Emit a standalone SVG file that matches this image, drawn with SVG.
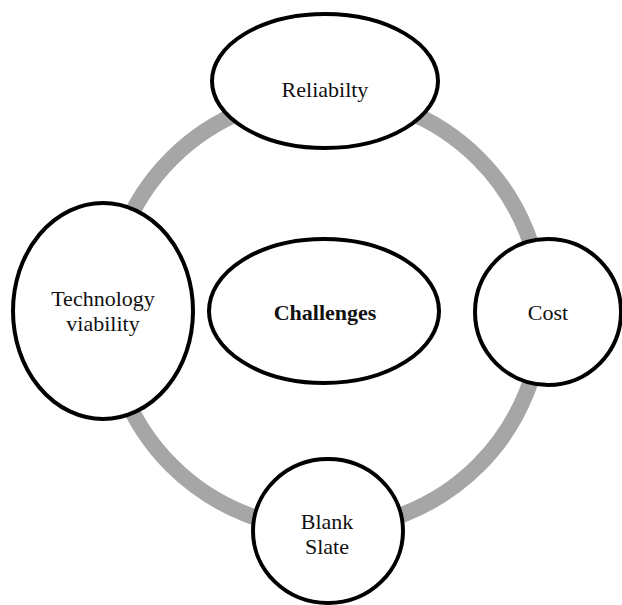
<svg xmlns="http://www.w3.org/2000/svg" width="622" height="605" viewBox="0 0 622 605">
  <style>
    .node { fill: #ffffff; stroke: #000000; stroke-width: 4; }
    .label { font-family: 'Liberation Serif', 'Times New Roman', 'DejaVu Serif', serif; font-size: 22px; fill: #111111; text-anchor: middle; }
    .bold { font-weight: bold; }
    .ring { fill: none; stroke: #a6a6a6; stroke-width: 16; }
  </style>
  <rect width="622" height="605" fill="#ffffff"/>

  <!-- cycle ring linking the outer topics -->
  <g id="connectors">
    <circle class="ring" cx="325" cy="312" r="217"/>
  </g>

  <g id="challenges">
    <ellipse class="node" cx="324" cy="311" rx="115" ry="72"/>
    <text class="label bold" x="325" y="320" font-family="Liberation Serif, serif">Challenges</text>
  </g>

  <g id="reliability">
    <ellipse class="node" cx="325" cy="81" rx="113" ry="67"/>
    <text class="label" x="325" y="97" font-family="Liberation Serif, serif">Reliabilty</text>
  </g>

  <g id="technology-viability">
    <ellipse class="node" cx="103" cy="311" rx="90" ry="108"/>
    <text class="label" x="103" y="306" font-family="Liberation Serif, serif">Technology</text>
    <text class="label" x="103" y="331" font-family="Liberation Serif, serif">viability</text>
  </g>

  <g id="cost">
    <ellipse class="node" cx="548" cy="312" rx="73" ry="73"/>
    <text class="label" x="548" y="320" font-family="Liberation Serif, serif">Cost</text>
  </g>

  <g id="blank-slate">
    <ellipse class="node" cx="328" cy="531" rx="75" ry="72"/>
    <text class="label" x="327" y="529" font-family="Liberation Serif, serif">Blank</text>
    <text class="label" x="327" y="554" font-family="Liberation Serif, serif">Slate</text>
  </g>
</svg>
